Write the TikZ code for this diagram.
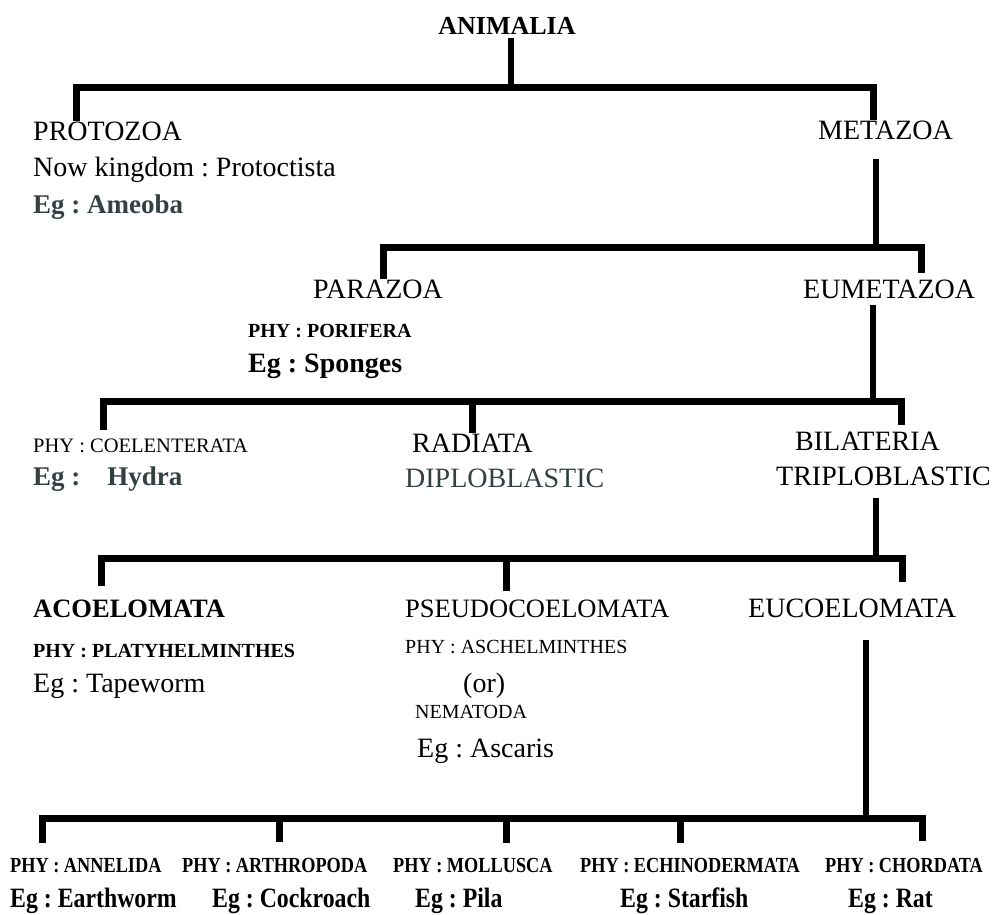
\documentclass[tikz,border=0pt]{standalone}
\usepackage{fontspec}
\setmainfont{Liberation Serif}
\newfontfamily\condfont[FakeStretch=0.85]{Liberation Serif}
\usetikzlibrary{calc}
\definecolor{slate}{RGB}{50,64,66}
\newcommand{\sz}[1]{\fontsize{#1}{#1}\selectfont}
\frenchspacing

\begin{document}
\begin{tikzpicture}[x=1pt,y=-1pt,
		taxon/.style={inner sep=0pt,anchor=base west,font=\sz{28}},
		phyb/.style={inner sep=0pt,anchor=base west,font=\sz{20}\bfseries},
		phyr/.style={inner sep=0pt,anchor=base west,font=\sz{20}},
		eg/.style={inner sep=0pt,anchor=base west,text=slate,font=\sz{27}\bfseries},
		phyc/.style={inner sep=0pt,anchor=base west,font=\condfont\sz{21.5}\bfseries},
		egc/.style={inner sep=0pt,anchor=base west,font=\condfont\sz{28}\bfseries},
		bar/.style={line width=7pt,line join=miter},
		stem/.style={line width=6.5pt}]
	\useasboundingbox (0,0) rectangle (1007,914);
	% labels
	\node[inner sep=0pt,anchor=base,font=\sz{26}\bfseries] (animalia) at (507,34) {ANIMALIA};
	\node[taxon] (protozoa) at (33,140) {PROTOZOA};
	\node[taxon] (kingdom) at (33,176) {Now kingdom : Protoctista};
	\node[eg] (ameoba) at (33,213) {Eg : Ameoba};
	\node[taxon] (metazoa) at (818,139) {METAZOA};
	\node[taxon] (parazoa) at (313,298) {PARAZOA};
	\node[phyb] (porifera) at (248,337) {PHY : PORIFERA};
	\node[eg,text=black,font=\sz{28}\bfseries] (sponges) at (248,372) {Eg : Sponges};
	\node[taxon] (eumetazoa) at (803,298) {EUMETAZOA};
	\node[phyr,font=\sz{20.5}] (coelenterata) at (33,452) {PHY : COELENTERATA};
	\node[eg] (hydra) at (33,485) {Eg :\hspace{27pt}Hydra};
	\node[taxon] (radiata) at (412,452) {RADIATA};
	\node[taxon,text=slate] (diplo) at (405,487) {DIPLOBLASTIC};
	\node[taxon] (bilateria) at (795,450) {BILATERIA};
	\node[taxon] (triplo) at (776,485) {TRIPLOBLASTIC};
	\node[taxon,font=\sz{26.5}\bfseries] (acoelomata) at (33,617) {ACOELOMATA};
	\node[phyb] (platy) at (33,657) {PHY : PLATYHELMINTHES};
	\node[taxon] (tapeworm) at (33,692) {Eg : Tapeworm};
	\node[taxon,font=\sz{26.5}] (pseudo) at (405,617) {PSEUDOCOELOMATA};
	\node[phyr] (aschel) at (405,653) {PHY : ASCHELMINTHES};
	\node[taxon] (or) at (463,692) {(or)};
	\node[phyr] (nematoda) at (415,718) {NEMATODA};
	\node[taxon] (ascaris) at (417,757) {Eg : Ascaris};
	\node[taxon] (eucoelomata) at (748,617) {EUCOELOMATA};
	\node[phyc] (annelida) at (10,872) {PHY : ANNELIDA};
	\node[phyc] (arthropoda) at (182,872) {PHY : ARTHROPODA};
	\node[phyc] (mollusca) at (393,872) {PHY : MOLLUSCA};
	\node[phyc] (echino) at (580,872) {PHY : ECHINODERMATA};
	\node[phyc] (chordata) at (825,872) {PHY : CHORDATA};
	\node[egc] (earthworm) at (10,907) {Eg : Earthworm};
	\node[egc] (cockroach) at (212,907) {Eg : Cockroach};
	\node[egc] (pila) at (415,907) {Eg : Pila};
	\node[egc] (starfish) at (620,907) {Eg : Starfish};
	\node[egc] (rat) at (848,907) {Eg : Rat};
	% bar joints
	\coordinate (b1w) at (76,87);  \coordinate (b1m) at (511,87);  \coordinate (b1e) at (873,87);
	\coordinate (b2w) at (383,247); \coordinate (b2m) at (876,247); \coordinate (b2e) at (921,247);
	\coordinate (b3w) at (103,401); \coordinate (b3m) at (873,401); \coordinate (b3e) at (901,401);
	\coordinate (b4w) at (101,558); \coordinate (b4p) at (506,558); \coordinate (b4m) at (876,558); \coordinate (b4e) at (902,558);
	\coordinate (b5w) at (42,818);  \coordinate (b5a) at (279,818); \coordinate (b5p) at (506,818); \coordinate (b5c) at (680,818);
	\coordinate (b5m) at (866,818); \coordinate (b5e) at (922,818);
	% connectors
	\draw[stem] ($(animalia.south -| b1m)+(0,4)$) -- (b1m);
	\draw[bar] (protozoa.north -| b1w) |- (b1e) -- (metazoa.north -| b1e);
	\draw[stem] ($(metazoa.south -| b2m)+(0,20)$) -- (b2m);
	\draw[bar] (parazoa.north -| b2w) |- (b2e) -- ($(eumetazoa.north -| b2e)+(0,-6)$);
	\draw[stem] ($(eumetazoa.south -| b3m)+(0,7)$) -- (b3m);
	\draw[bar] ($(coelenterata.north -| b3w)+(0,-8)$) |- (b3e) -- ($(bilateria.north -| b3e)+(0,-6)$);
	\draw[bar] (radiata.north) -- (radiata.north |- b3w);
	\draw[stem] ($(triplo.south -| b4m)+(0,13)$) -- (b4m);
	\draw[bar] ($(acoelomata.north -| b4w)+(0,-13)$) |- (b4e) -- ($(eucoelomata.north -| b4e)+(0,-16)$);
	\draw[bar] ($(pseudo.north -| b4p)+(0,-8)$) -- (b4p);
	\draw[stem] ($(eucoelomata.south -| b5m)+(0,23)$) -- (b5m);
	\draw[bar] ($(annelida.north -| b5w)+(0,-15)$) |- (b5e) -- ($(chordata.north -| b5e)+(0,-17)$);
	\draw[bar] ($(arthropoda.north -| b5a)+(0,-16)$) -- (b5a);
	\draw[bar] ($(mollusca.north -| b5p)+(0,-15)$) -- (b5p);
	\draw[bar] ($(echino.north -| b5c)+(0,-15)$) -- (b5c);
\end{tikzpicture}
\end{document}
